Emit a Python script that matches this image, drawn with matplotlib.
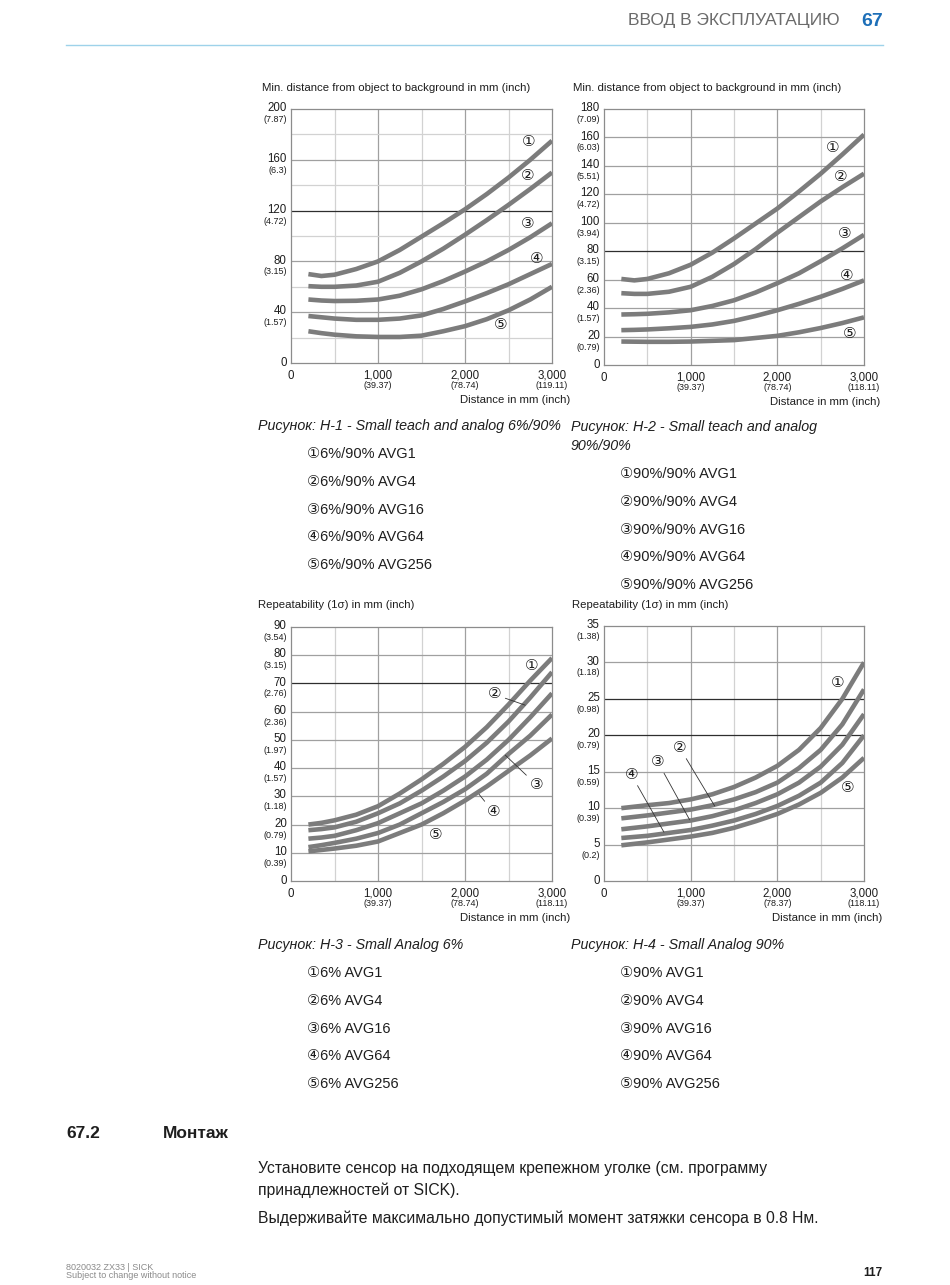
import matplotlib
matplotlib.use("Agg")
import matplotlib.pyplot as plt

# ----------------------------------------------------------------
# Data
# ----------------------------------------------------------------
dist_mm = [200, 350, 500, 750, 1000, 1250, 1500, 1750, 2000, 2250, 2500, 2750, 3000]

# H-1: min. distance to background, 6%/90%
h1_avg1   = [70, 68.5, 69.5, 74, 80, 89, 99.5, 110, 121, 133, 146, 160, 175]
h1_avg4   = [60.5, 60, 60, 61, 64, 71, 80, 90, 101, 112.5, 124.5, 137, 150]
h1_avg16  = [50, 49.2, 48.8, 49, 50, 53, 58, 64.5, 72, 80, 89, 99, 110]
h1_avg64  = [37, 36, 35, 34, 34, 35, 37.5, 42.5, 48.5, 55, 62, 70, 78]
h1_avg256 = [25, 23.5, 22.3, 21, 20.5, 20.5, 21.5, 25, 29, 34.5, 41.5, 50, 60]

# H-2: min. distance to background, 90%/90%
h2_avg1   = [60.5, 59.5, 60.5, 64.5, 70.5, 79, 89, 99.5, 110, 122, 134.5, 148, 162]
h2_avg4   = [50.5, 50, 50, 51.5, 55, 62, 71, 81.5, 93, 104, 115, 125, 134.5]
h2_avg16  = [35.5, 35.7, 36, 37, 38.5, 41.5, 45.5, 51, 57.5, 64.5, 73, 82, 91.5]
h2_avg64  = [24.5, 24.7, 25, 25.8, 26.8, 28.5, 31, 34.5, 38.5, 43, 48, 53.5, 59.5]
h2_avg256 = [16.5, 16.4, 16.3, 16.3, 16.5, 17, 17.5, 19, 20.5, 23, 26, 29.5, 33.5]

# H-3: repeatability, 6%
h3_avg1   = [20, 20.6, 21.5, 23.5, 26.5, 31, 36, 41.5, 47.5, 54.5, 62.5, 71, 79]
h3_avg4   = [18, 18.4, 19, 21, 24, 27.5, 32, 37, 42.5, 49, 56.5, 65, 74]
h3_avg16  = [15, 15.4, 16, 18, 20.5, 24, 27.5, 32, 37, 43, 50, 58, 66.5]
h3_avg64  = [12, 12.7, 13.5, 15, 17, 20, 24, 28, 32.5, 38, 45, 51.5, 59]
h3_avg256 = [10.5, 11, 11.5, 12.5, 14, 17, 20, 24, 28.5, 33.5, 39, 44.5, 50.5]

# H-4: repeatability, 90%
h4_avg1   = [10, 10.2, 10.4, 10.7, 11.2, 11.9, 12.9, 14.2, 15.8, 18, 21, 25, 30]
h4_avg4   = [8.6, 8.8, 9, 9.4, 9.8, 10.4, 11.2, 12.2, 13.5, 15.5, 18, 21.5, 26.3]
h4_avg16  = [7.1, 7.3, 7.5, 7.9, 8.3, 8.9, 9.7, 10.7, 11.9, 13.5, 15.7, 18.7, 22.9]
h4_avg64  = [5.9, 6.05, 6.2, 6.6, 7, 7.6, 8.3, 9.2, 10.3, 11.7, 13.5, 16.2, 20]
h4_avg256 = [4.9, 5.1, 5.3, 5.7, 6.1, 6.6, 7.3, 8.2, 9.2, 10.5, 12.1, 14.2, 16.9]

x_ticks = [1000, 2000, 3000]
x_tick_labels = ["1,000", "2,000", "3,000"]
x_inch_h1 = ["(39.37)", "(78.74)", "(119.11)"]
x_inch_h2 = ["(39.37)", "(78.74)", "(118.11)"]
x_inch_h3 = ["(39.37)", "(78.74)", "(118.11)"]
x_inch_h4 = ["(39.37)", "(78.37)", "(118.11)"]

y_ticks_h1 = [40, 80, 120, 160, 200]
y_inch_h1 = ["(1.57)", "(3.15)", "(4.72)", "(6.3)", "(7.87)"]
y_ticks_h2 = [20, 40, 60, 80, 100, 120, 140, 160, 180]
y_inch_h2 = ["(0.79)", "(1.57)", "(2.36)", "(3.15)", "(3.94)", "(4.72)",
             "(5.51)", "(6.03)", "(7.09)"]
y_ticks_h3 = [10, 20, 30, 40, 50, 60, 70, 80, 90]
y_inch_h3 = ["(0.39)", "(0.79)", "(1.18)", "(1.57)", "(1.97)", "(2.36)",
             "(2.76)", "(3.15)", "(3.54)"]
y_ticks_h4 = [5, 10, 15, 20, 25, 30, 35]
y_inch_h4 = ["(0.2)", "(0.39)", "(0.59)", "(0.79)", "(0.98)", "(1.18)", "(1.38)"]

marks = ["\u2460", "\u2461", "\u2462", "\u2463", "\u2464"]
legend_h1 = ["6%/90% AVG1", "6%/90% AVG4", "6%/90% AVG16", "6%/90% AVG64", "6%/90% AVG256"]
legend_h2 = ["90%/90% AVG1", "90%/90% AVG4", "90%/90% AVG16", "90%/90% AVG64", "90%/90% AVG256"]
legend_h3 = ["6% AVG1", "6% AVG4", "6% AVG16", "6% AVG64", "6% AVG256"]
legend_h4 = ["90% AVG1", "90% AVG4", "90% AVG16", "90% AVG64", "90% AVG256"]

# ----------------------------------------------------------------
# Style
# ----------------------------------------------------------------
FONT = ["Liberation Sans", "DejaVu Sans", "Noto Sans CJK SC"]
plt.rcParams["font.family"] = FONT
TXT = "#1e1e1e"
LIGHT, MID, DARK = "#d2d2d2", "#a0a0a0", "#2e2e2e"
FRAME = "#8c8c8c"
CURVE = "#7c7c7c"
NUM_FS, INCH_FS, TITLE_FS = 8.3, 6.5, 8.2

W, H = 950, 1285
fig = plt.figure(figsize=(W / 100, H / 100), dpi=100)
fig.patch.set_facecolor("white")


def ftext(x, y, s, **kw):
    kw.setdefault("color", TXT)
    fig.text(x / W, 1 - y / H, s, **kw)


def px_axes(l, t, r, b):
    return fig.add_axes([l / W, 1 - b / H, (r - l) / W, (b - t) / H])


def draw_chart(ax, ymax, yticks, yinch, xinch, curves, hl_light, hl_mid, hl_dark,
               labels, leaders):
    ax.set_xlim(0, 3000)
    ax.set_ylim(0, ymax)
    ax.set_xticks([])
    ax.set_yticks([])
    for s in ax.spines.values():
        s.set_color(FRAME)
        s.set_linewidth(0.9)
    for v in (500, 1500, 2500):
        ax.axvline(v, color=LIGHT, lw=0.9, zorder=1)
    for v in (1000, 2000):
        ax.axvline(v, color=MID, lw=0.9, zorder=1)
    for v in hl_light:
        ax.axhline(v, color=LIGHT, lw=0.9, zorder=1)
    for v in hl_mid:
        ax.axhline(v, color=MID, lw=0.9, zorder=1)
    for v in hl_dark:
        ax.axhline(v, color=DARK, lw=0.9, zorder=1)

    for y in curves:
        ax.plot(dist_mm, y, color=CURVE, lw=3.3, solid_capstyle="butt",
                solid_joinstyle="round", zorder=3)

    ytr = ax.get_yaxis_transform()
    xtr = ax.get_xaxis_transform()
    ax.text(-0.016, 0, "0", transform=ytr, ha="right", va="center",
            fontsize=NUM_FS, color=TXT)
    for v, inch in zip(yticks, yinch):
        ax.annotate(str(v), xy=(-0.016, v), xycoords=ytr, xytext=(0, 0.6),
                    textcoords="offset points", ha="right", va="center",
                    fontsize=NUM_FS, color=TXT, annotation_clip=False)
        ax.annotate(inch, xy=(-0.016, v), xycoords=ytr, xytext=(0, -7.6),
                    textcoords="offset points", ha="right", va="center",
                    fontsize=INCH_FS, color=TXT, annotation_clip=False)
    ax.annotate("0", xy=(0, 0), xycoords=xtr, xytext=(0, -9.3),
                textcoords="offset points", ha="center", va="center",
                fontsize=NUM_FS, color=TXT, annotation_clip=False)
    for v, lab, inch in zip(x_ticks, x_tick_labels, xinch):
        ax.annotate(lab, xy=(v, 0), xycoords=xtr, xytext=(0, -9.3),
                    textcoords="offset points", ha="center", va="center",
                    fontsize=NUM_FS, color=TXT, annotation_clip=False)
        ax.annotate(inch, xy=(v, 0), xycoords=xtr, xytext=(0, -16.4),
                    textcoords="offset points", ha="center", va="center",
                    fontsize=INCH_FS, color=TXT, annotation_clip=False)

    for i, (lx, ly) in enumerate(labels):
        if i in leaders:
            ax.annotate(marks[i], xy=leaders[i], xytext=(lx, ly), ha="center",
                        va="center", fontsize=11, color=TXT, zorder=5,
                        arrowprops=dict(arrowstyle="-", color="#333333", lw=0.6,
                                        shrinkA=1, shrinkB=0))
        else:
            ax.text(lx, ly, marks[i], ha="center", va="center", fontsize=11,
                    color=TXT, zorder=5)


# ----------------------------------------------------------------
# Header
# ----------------------------------------------------------------
ftext(840, 21, "ВВОД В ЭКСПЛУАТАЦИЮ", ha="right", va="center", fontsize=12.5,
      color="#6b6b6b")
ftext(883, 21, "67", ha="right", va="center", fontsize=14, fontweight="bold",
      color="#1d6fb8")
fig.add_artist(plt.Line2D([66 / W, 883 / W], [1 - 45 / H, 1 - 45 / H],
                          color="#9ed2ea", lw=1.0))

# ----------------------------------------------------------------
# Charts
# ----------------------------------------------------------------
ax1 = px_axes(291, 109, 552, 363)
draw_chart(ax1, 200, y_ticks_h1, y_inch_h1, x_inch_h1,
           [h1_avg1, h1_avg4, h1_avg16, h1_avg64, h1_avg256],
           [20, 60, 100, 140, 180], [40, 80, 160], [120],
           [(2731, 174), (2724, 147), (2724, 109.5), (2820, 81.5), (2405, 30)], {})

ax2 = px_axes(604, 109, 864, 365)
draw_chart(ax2, 180, y_ticks_h2, y_inch_h2, x_inch_h2,
           [h2_avg1, h2_avg4, h2_avg16, h2_avg64, h2_avg256],
           [], [20, 40, 60, 100, 120, 140, 160], [80],
           [(2638, 152.5), (2734, 132), (2773, 92), (2800, 62.7), (2838, 21.8)], {})

ax3 = px_axes(291, 627, 552, 881)
draw_chart(ax3, 90, y_ticks_h3, y_inch_h3, x_inch_h3,
           [h3_avg1, h3_avg4, h3_avg16, h3_avg64, h3_avg256],
           [], [10, 20, 30, 40, 50, 60, 80], [70],
           [(2762, 76.2), (2338, 66.1), (2827, 33.9), (2327, 24.4), (1665, 16.3)],
           {1: (2692, 62.3), 2: (2463, 44.6), 3: (2162, 30.7)})

ax4 = px_axes(604, 626, 864, 881)
draw_chart(ax4, 35, y_ticks_h4, y_inch_h4, x_inch_h4,
           [h4_avg1, h4_avg4, h4_avg16, h4_avg64, h4_avg256],
           [], [5, 10, 15, 30], [20, 25],
           [(2700, 27.2), (873, 18.3), (623, 16.3), (315, 14.6), (2815, 12.8)],
           {1: (1277, 10.3), 2: (988, 8.4), 3: (692, 6.7)})

# axis titles
ftext(262, 88, "Min. distance from object to background in mm (inch)", ha="left",
      va="center", fontsize=TITLE_FS)
ftext(573, 88, "Min. distance from object to background in mm (inch)", ha="left",
      va="center", fontsize=TITLE_FS)
ftext(570, 400, "Distance in mm (inch)", ha="right", va="center", fontsize=TITLE_FS)
ftext(880, 402, "Distance in mm (inch)", ha="right", va="center", fontsize=TITLE_FS)
ftext(258, 605, "Repeatability (1σ) in mm (inch)", ha="left", va="center", fontsize=TITLE_FS)
ftext(572, 605, "Repeatability (1σ) in mm (inch)", ha="left", va="center", fontsize=TITLE_FS)
ftext(570, 918, "Distance in mm (inch)", ha="right", va="center", fontsize=TITLE_FS)
ftext(882, 918, "Distance in mm (inch)", ha="right", va="center", fontsize=TITLE_FS)

# ----------------------------------------------------------------
# Captions and legends
# ----------------------------------------------------------------
CAP_FS = 10.3
ftext(258, 426, "Рисунок: H-1 - Small teach and analog 6%/90%", ha="left",
      va="center", fontsize=CAP_FS, style="italic")
ftext(571, 427, "Рисунок: H-2 - Small teach and analog", ha="left", va="center",
      fontsize=CAP_FS, style="italic")
ftext(571, 446, "90%/90%", ha="left", va="center", fontsize=CAP_FS, style="italic")
ftext(258, 945, "Рисунок: H-3 - Small Analog 6%", ha="left", va="center",
      fontsize=CAP_FS, style="italic")
ftext(571, 945, "Рисунок: H-4 - Small Analog 90%", ha="left", va="center",
      fontsize=CAP_FS, style="italic")

for i in range(5):
    ftext(307, 454 + i * 27.8, marks[i] + legend_h1[i], ha="left", va="center", fontsize=10.5)
    ftext(620, 474 + i * 27.8, marks[i] + legend_h2[i], ha="left", va="center", fontsize=10.5)
    ftext(307, 973 + i * 27.8, marks[i] + legend_h3[i], ha="left", va="center", fontsize=10.5)
    ftext(620, 973 + i * 27.8, marks[i] + legend_h4[i], ha="left", va="center", fontsize=10.5)

# ----------------------------------------------------------------
# Section text
# ----------------------------------------------------------------
ftext(66, 1133, "67.2", ha="left", va="center", fontsize=12.5, fontweight="bold")
ftext(163, 1133, "Монтаж", ha="left", va="center", fontsize=12.5, fontweight="bold")
ftext(258, 1168, "Установите сенсор на подходящем крепежном уголке (см. программу",
      ha="left", va="center", fontsize=11.3)
ftext(258, 1190, "принадлежностей от SICK).", ha="left", va="center", fontsize=11.3)
ftext(258, 1218, "Выдерживайте максимально допустимый момент затяжки сенсора в 0.8 Нм.",
      ha="left", va="center", fontsize=11.3)

# footer
ftext(66, 1268, "8020032 ZX33 | SICK", ha="left", va="center", fontsize=6.5, color="#8a8a8a")
ftext(66, 1276, "Subject to change without notice", ha="left", va="center",
      fontsize=6.5, color="#8a8a8a")
ftext(882, 1273, "117", ha="right", va="center", fontsize=8.5, fontweight="bold")

fig.savefig("out.png", dpi=100, facecolor="white")
